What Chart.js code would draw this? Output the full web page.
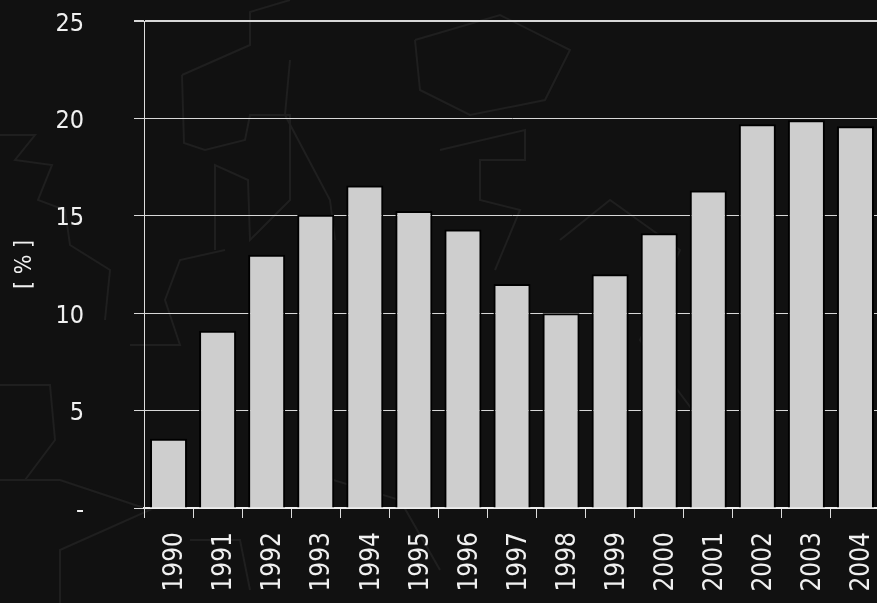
<!DOCTYPE html>
<html>
<head>
<meta charset="utf-8">
<title>Chart</title>
<script src="https://cdn.jsdelivr.net/npm/chart.js@4"></script>
<style>
  html, body { margin: 0; padding: 0; width: 877px; height: 603px; overflow: hidden; background: #111; }
  #map { position: absolute; left: 0; top: 0; }
  #map polyline { fill: none; stroke: #1f1f1f; stroke-width: 2; }
  #myChart { position: absolute; left: 0; top: 0; }
</style>
</head>
<body>
<!-- faint map behind the chart -->
<svg id="map" width="877" height="603">
  <polyline points="182,75 250,45 250,12 290,0"/>
  <polyline points="182,75 184,143 205,150 245,140 250,115 290,115 290,200 250,240 248,180 215,165 215,250"/>
  <polyline points="290,60 285,115 330,200 335,240"/>
  <polyline points="415,40 500,15 570,50 545,100 470,115 420,90 415,40"/>
  <polyline points="440,150 525,130 525,160 480,160 480,200 520,210 495,270"/>
  <polyline points="0,135 35,135 15,160 52,165 38,200 65,210 70,245 110,270 105,320"/>
  <polyline points="130,345 180,345 165,300 180,260 225,250"/>
  <polyline points="0,480 60,480 150,510 60,550 60,603"/>
  <polyline points="0,385 50,385 55,440 25,480"/>
  <polyline points="560,240 610,200 680,250 640,340 700,420"/>
  <polyline points="190,540 240,540 250,590"/>
  <polyline points="300,470 400,500 440,570"/>
</svg>
<canvas id="myChart" width="880" height="603"></canvas>
<script>
var years = ['1990','1991','1992','1993','1994','1995','1996','1997','1998','1999','2000','2001','2002','2003','2004'];
var shares = [3.55, 9.1, 13, 15.05, 16.55, 15.25, 14.3, 11.5, 10, 12, 14.1, 16.3, 19.7, 19.9, 19.6];
var yTicks = [0, 5, 10, 15, 20, 25];

// the axes must not push the plot area in for their labels
function noPadding(axis) {
  axis.paddingTop = 0;
  axis.paddingBottom = 0;
  axis.paddingLeft = 0;
  axis.paddingRight = 0;
}

var ctx = document.getElementById('myChart').getContext('2d');
var myBarChart = new Chart(ctx, {
  type: 'bar',
  data: {
    labels: years,
    datasets: [{
      data: shares,
      backgroundColor: '#cecece',
      borderColor: '#000',
      borderWidth: 2,
      barPercentage: 0.755,
      categoryPercentage: 1
    }]
  },
  options: {
    responsive: false,
    animation: false,
    layout: { padding: { top: 21, left: 0, right: 0, bottom: 0 } },
    plugins: { legend: { display: false }, tooltip: { enabled: false } },
    scales: {
      x: {
        afterFit: function (axis) { axis.height = 95; noPadding(axis); },
        grid: { drawOnChartArea: false, tickLength: 10, color: '#ddd', offset: true },
        border: { color: '#eee', width: 2 },
        ticks: {
          color: '#f0f0f0',
          minRotation: 90,
          maxRotation: 90,
          padding: 14,
          labelOffset: 7,
          font: { family: '"DejaVu Sans Condensed", sans-serif', size: 26 }
        }
      },
      y: {
        min: 0,
        max: 25,
        afterBuildTicks: function (axis) { axis.ticks = yTicks.map(function (v) { return { value: v }; }); },
        afterFit: function (axis) { axis.width = 144; noPadding(axis); },
        grid: {
          color: '#d8d8d8',
          tickLength: 10,
          lineWidth: function (c) { return c.tick && c.tick.value === 25 ? 2 : 1; }
        },
        border: { color: '#ddd', width: 1 },
        title: { display: true, text: '[ % ]', color: '#f0f0f0', padding: { top: 11 }, font: { family: '"DejaVu Sans Condensed", sans-serif', size: 23 } },
        ticks: {
          color: '#f0f0f0',
          padding: 50,
          labelOffset: 3,
          callback: function (v) { return v === 0 ? '-' : v; },
          font: { family: '"DejaVu Sans Condensed", sans-serif', size: 25 }
        }
      }
    }
  }
});
</script>
</body>
</html>
